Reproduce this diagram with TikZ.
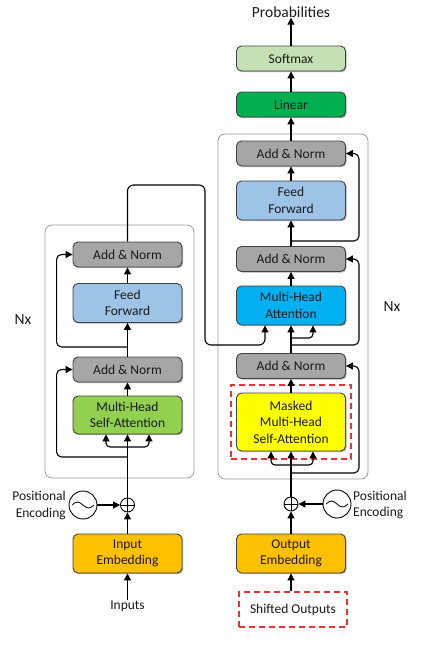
\documentclass[tikz,border=0pt]{standalone}
\usepackage{fontspec}
\setmainfont{Carlito}
\usetikzlibrary{arrows.meta,shadows}
\definecolor{normgray}{HTML}{A6A6A6}
\definecolor{ffblue}{HTML}{9DC3E6}
\definecolor{mhgreen}{HTML}{92D050}
\definecolor{lingreen}{HTML}{00B050}
\definecolor{smgreen}{HTML}{C5E0B4}
\definecolor{mhablue}{HTML}{00B0F0}
\definecolor{maskyellow}{HTML}{FFFF00}
\definecolor{embor}{HTML}{FFC000}
\definecolor{txt}{HTML}{1A1A1A}
\definecolor{edge}{HTML}{404040}
\definecolor{reddash}{HTML}{F03030}
\begin{document}
\begin{tikzpicture}[x=1pt,y=-1pt,
  blk/.style={draw=edge, line width=0.9pt, rounded corners=5pt, minimum width=109pt,
    align=center, inner sep=0pt, text=txt, font=\fontsize{13.5}{16.5}\selectfont,
    drop shadow={shadow xshift=1.2pt, shadow yshift=-1.2pt, opacity=0.3, fill=black}},
  short/.style={blk, minimum height=25pt},
  tall/.style={blk, minimum height=39pt},
  lbl/.style={text=txt, font=\fontsize{13.5}{16.5}\selectfont, inner sep=0pt},
  outer/.style={draw=black!40, line width=0.8pt, rounded corners=7pt},
  reddashed/.style={draw=reddash, line width=1.2pt, dash pattern=on 6pt off 4pt},
  arr/.style={-{Triangle[length=7pt,width=7pt]}, line width=1.1pt, draw=black},
  plusc/.style={circle, draw=black, line width=0.9pt, minimum size=14pt, inner sep=0pt},
  pec/.style={circle, draw=black, line width=0.9pt, minimum size=28pt, inner sep=0pt}]
\useasboundingbox (0,0) rectangle (421,645);

% ---------- encoder ----------
\node[outer, minimum width=149pt, minimum height=253pt] (encbox) at (119.5,351.5) {};
\node[short, fill=normgray] (ean2) at (127.5,254.5) {Add \& Norm};
\node[tall, fill=ffblue] (eff) at (127.5,303) {Feed\\Forward};
\node[short, fill=normgray] (ean1) at (127.5,369.5) {Add \& Norm};
\node[tall, fill=mhgreen, minimum height=38pt] (emh) at (127.5,415) {Multi-Head\\Self-Attention};
\node[tall, fill=embor] (ein) at (127.5,553.5) {Input\\Embedding};
\node[lbl] (inputs) at (127.5,606) {Inputs};
\node[plusc] (eplus) at (127.5,505) {};
\node[pec] (epe) at (83,505) {};
\node[lbl, align=right, anchor=east] (epet) at (66,505.5) {Positional\\Encoding};
\node[lbl, font=\fontsize{15.5}{18}\selectfont] (nxl) at (23,320) {Nx};

% ---------- decoder ----------
\node[outer, minimum width=150pt, minimum height=345pt] (decbox) at (293,306.5) {};
\node[lbl, font=\fontsize{15.5}{18}\selectfont] (prob) at (291,12) {Probabilities};
\node[short, fill=smgreen] (softmax) at (291,58.5) {Softmax};
\node[short, fill=lingreen] (linear) at (291,104.5) {Linear};
\node[short, fill=normgray] (dan3) at (291,153.5) {Add \& Norm};
\node[tall, fill=ffblue] (dff) at (291,200.5) {Feed\\Forward};
\node[short, fill=normgray] (dan2) at (291,259) {Add \& Norm};
\node[tall, fill=mhablue] (dmha) at (291,305.5) {Multi-Head\\Attention};
\node[short, fill=normgray] (dan1) at (291,366) {Add \& Norm};
\node[reddashed, minimum width=120pt, minimum height=74pt] (maskbox) at (291,422) {};
\node[blk, fill=maskyellow, minimum height=58pt] (dmask) at (291,422) {Masked\\Multi-Head\\Self-Attention};
\node[plusc] (dplus) at (291,504) {};
\node[pec] (dpe) at (337,504) {};
\node[lbl, align=left, anchor=west] (dpet) at (353,505) {Positional\\Encoding};
\node[tall, fill=embor] (dout) at (291,553.5) {Output\\Embedding};
\node[reddashed, lbl, minimum width=108pt, minimum height=35pt] (shifted) at (293,609.5) {Shifted Outputs};
\node[lbl, font=\fontsize{15.5}{18}\selectfont] (nxr) at (392,307) {Nx};

% plus signs and sines
\draw[line width=0.9pt] (eplus.west) -- (eplus.east) (eplus.north) -- (eplus.south);
\draw[line width=0.9pt] (dplus.west) -- (dplus.east) (dplus.north) -- (dplus.south);
\draw[line width=0.8pt] ([xshift=-11pt]epe.center) sin ++(5.5pt,3pt) cos ++(5.5pt,-3pt) sin ++(5.5pt,-3pt) cos ++(5.5pt,3pt);
\draw[line width=0.8pt] ([xshift=-11pt]dpe.center) sin ++(5.5pt,3pt) cos ++(5.5pt,-3pt) sin ++(5.5pt,-3pt) cos ++(5.5pt,3pt);

% ---------- encoder connectors ----------
\draw[arr] (inputs.north) -- (ein.south);
\draw[arr] (ein.north) -- (eplus.south);
\draw[arr] (epe.east) -- (eplus.west);
\draw[arr] (eplus.north) -- (emh.south);
\coordinate (eb) at (127.5,447);
\draw[arr, rounded corners=4pt] (eb) -| ([xshift=-21.5pt]emh.south);
\draw[arr, rounded corners=4pt] (eb) -| ([xshift=21.5pt]emh.south);
\coordinate (er1) at (127.5,457);
\draw[arr, rounded corners=5pt] (er1) -| ([xshift=-16pt]ean1.west) -- (ean1.west);
\draw[arr] (emh.north) -- (ean1.south);
\draw[arr] (ean1.north) -- (eff.south);
\coordinate (er2) at (127.5,347);
\draw[arr, rounded corners=5pt] (er2) -| ([xshift=-16pt]ean2.west) -- (ean2.west);
\draw[arr] (eff.north) -- (ean2.south);
\coordinate (eo1) at (205,185);
\coordinate (eo2) at (205,345);
\coordinate (eo3) at (265,345);
\draw[arr, rounded corners=6pt] (ean2.north) |- (eo1) -- (eo2) -- (eo3) -- (eo3 |- dmha.south);

% ---------- decoder connectors ----------
\draw[arr] (dout.south |- shifted.north) -- (dout.south);
\draw[arr] (dout.north) -- (dplus.south);
\draw[arr] (dpe.west) -- (dplus.east);
\draw[arr] (dplus.north) -- (dmask.south);
\coordinate (db1) at (291,465);
\draw[arr, rounded corners=4pt] (db1) -| ([xshift=-20pt]dmask.south);
\draw[arr, rounded corners=4pt] (db1) -| ([xshift=22pt]dmask.south);
\coordinate (dr1) at (291,473);
\draw[arr, rounded corners=5pt] (dr1) -| ([xshift=13pt]dan1.east) -- (dan1.east);
\draw[arr] (dmask.north) -- (dan1.south);
\draw[arr] (dan1.north) -- (dmha.south);
\coordinate (db2) at (291,338);
\draw[arr, rounded corners=4pt] (db2) -| ([xshift=22pt]dmha.south);
\coordinate (dr2) at (291,345);
\draw[arr, rounded corners=5pt] (dr2) -| ([xshift=13pt]dan2.east) -- (dan2.east);
\draw[arr] (dmha.north) -- (dan2.south);
\draw[arr] (dan2.north) -- (dff.south);
\coordinate (dr3) at (291,241);
\draw[arr, rounded corners=5pt] (dr3) -| ([xshift=13pt]dan3.east) -- (dan3.east);
\draw[arr] (dff.north) -- (dan3.south);
\draw[arr] (dan3.north) -- (linear.south);
\draw[arr] (linear.north) -- (softmax.south);
\draw[arr] (softmax.north) -- (prob.south);
\end{tikzpicture}
\end{document}
